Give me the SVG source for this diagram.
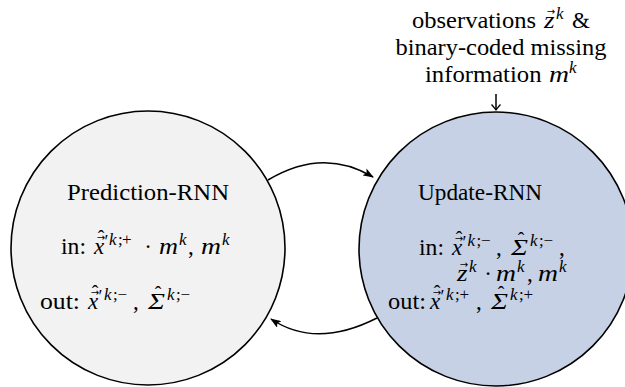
<svg xmlns="http://www.w3.org/2000/svg" width="625" height="387" viewBox="0 0 625 387">
<defs>
<style>
.t{font-family:"Liberation Serif","DejaVu Serif",serif;font-size:23px;fill:#000}
.s{font-family:"Liberation Serif","DejaVu Serif",serif;font-size:17px;fill:#000}
.it{font-style:italic}
.ar{font-family:"DejaVu Sans",sans-serif;font-size:10px;fill:#000}
.hat{font-family:"Liberation Serif","DejaVu Serif",serif;font-size:20px;fill:#000}
.pr{font-family:"Liberation Serif","DejaVu Serif",serif;font-size:18px;fill:#000}
.node{stroke:#000;stroke-width:1.6}
.edge{fill:none;stroke:#000;stroke-width:1.5}
</style>
<marker id="ah" viewBox="0 0 11 8" refX="10" refY="4" markerWidth="11" markerHeight="8" markerUnits="userSpaceOnUse" orient="auto">
<path d="M0,0 L11,4 L0,8 L2.5,4 z" fill="#000"/>
</marker>
<marker id="to" viewBox="-7 -6 9 12" refX="0" refY="0" markerWidth="9" markerHeight="12" markerUnits="userSpaceOnUse" orient="auto">
<path d="M-5.5,-4.5 Q-1.5,-1 0,0 Q-1.5,1 -5.5,4.5" fill="none" stroke="#000" stroke-width="1.2"/>
</marker>
</defs>
<rect width="625" height="387" fill="#fff"/>

<g id="connectors">
<path class="edge" d="M268,180 Q323,147 373,177" marker-end="url(#ah)"/>
<path class="edge" d="M377,318 Q316,349 271,319" marker-end="url(#ah)"/>
<path class="edge" d="M496,94 L496,110" stroke-width="1.2" marker-end="url(#to)"/>
</g>

<g id="prediction">
<circle class="node" cx="148" cy="248" r="137" fill="#f2f2f2"/>
<text class="t" x="148" y="200" text-anchor="middle" textLength="162" lengthAdjust="spacingAndGlyphs">Prediction-RNN</text>
<text class="t" x="61" y="254" textLength="25" lengthAdjust="spacingAndGlyphs">in:</text>
<text class="t it" x="94" y="254">x</text>
<text class="ar" x="101" y="241" text-anchor="middle">→</text>
<text class="hat" x="101" y="245" text-anchor="middle">ˆ</text>
<text class="pr" x="104.5" y="248">′</text>
<text class="s" y="244.5"><tspan class="it" x="109">k</tspan><tspan x="118">;</tspan><tspan x="122">+</tspan></text>
<text class="t" x="148" y="254" text-anchor="middle">·</text>
<text class="t it" x="159" y="254" textLength="19" lengthAdjust="spacingAndGlyphs">m</text>
<text class="s it" x="179" y="244.5">k</text>
<text class="t" x="188" y="254">,</text>
<text class="t it" x="201" y="254" textLength="20" lengthAdjust="spacingAndGlyphs">m</text>
<text class="s it" x="222" y="244.5">k</text>
<text class="t" x="40" y="309" textLength="40" lengthAdjust="spacingAndGlyphs">out:</text>
<text class="t it" x="88" y="309">x</text>
<text class="ar" x="95" y="296" text-anchor="middle">→</text>
<text class="hat" x="95" y="300" text-anchor="middle">ˆ</text>
<text class="pr" x="98.5" y="303">′</text>
<text class="s" y="299.5"><tspan class="it" x="104">k</tspan><tspan x="113">;</tspan><tspan x="117.5">−</tspan></text>
<text class="t" x="133" y="309">,</text>
<text class="t it" x="148" y="309" textLength="17" lengthAdjust="spacingAndGlyphs">Σ</text>
<text class="hat" x="158" y="301" text-anchor="middle">ˆ</text>
<text class="s" y="299.5"><tspan class="it" x="167">k</tspan><tspan x="176">;</tspan><tspan x="180.5">−</tspan></text>
</g>

<g id="update">
<circle class="node" cx="496" cy="249" r="137" fill="#c6d1e5"/>
<text class="t" x="418" y="200" textLength="124" lengthAdjust="spacingAndGlyphs">Update-RNN</text>
<text class="t" x="419" y="255" textLength="25" lengthAdjust="spacingAndGlyphs">in:</text>
<text class="t it" x="452" y="255">x</text>
<text class="ar" x="459" y="242" text-anchor="middle">→</text>
<text class="hat" x="459" y="246" text-anchor="middle">ˆ</text>
<text class="pr" x="462.5" y="249">′</text>
<text class="s" y="245.5"><tspan class="it" x="467.5">k</tspan><tspan x="476.5">;</tspan><tspan x="481">−</tspan></text>
<text class="t" x="496" y="255">,</text>
<text class="t it" x="511" y="255" textLength="17" lengthAdjust="spacingAndGlyphs">Σ</text>
<text class="hat" x="521" y="247" text-anchor="middle">ˆ</text>
<text class="s" y="245.5"><tspan class="it" x="530">k</tspan><tspan x="539">;</tspan><tspan x="543.5">−</tspan></text>
<text class="t" x="559" y="255">,</text>
<text class="t it" x="457" y="281" textLength="10.6" lengthAdjust="spacingAndGlyphs">z</text>
<text class="ar" x="464" y="268" text-anchor="middle">→</text>
<text class="s it" x="469" y="271.5">k</text>
<text class="t" x="488" y="281" text-anchor="middle">·</text>
<text class="t it" x="496" y="281" textLength="20" lengthAdjust="spacingAndGlyphs">m</text>
<text class="s it" x="517" y="271.5">k</text>
<text class="t" x="527" y="281">,</text>
<text class="t it" x="538" y="281" textLength="20" lengthAdjust="spacingAndGlyphs">m</text>
<text class="s it" x="559" y="271.5">k</text>
<text class="t" x="388" y="309" textLength="38" lengthAdjust="spacingAndGlyphs">out:</text>
<text class="t it" x="430" y="309">x</text>
<text class="ar" x="437" y="296" text-anchor="middle">→</text>
<text class="hat" x="437" y="300" text-anchor="middle">ˆ</text>
<text class="pr" x="440.5" y="303">′</text>
<text class="s" y="299.5"><tspan class="it" x="446">k</tspan><tspan x="455">;</tspan><tspan x="459.5">+</tspan></text>
<text class="t" x="476" y="309">,</text>
<text class="t it" x="491" y="309" textLength="17" lengthAdjust="spacingAndGlyphs">Σ</text>
<text class="hat" x="501" y="301" text-anchor="middle">ˆ</text>
<text class="s" y="299.5"><tspan class="it" x="510">k</tspan><tspan x="519">;</tspan><tspan x="523.5">+</tspan></text>
</g>

<g id="observations">
<text class="t" x="412" y="28" textLength="124" lengthAdjust="spacingAndGlyphs">observations</text>
<text class="t it" x="544" y="28" textLength="10.6" lengthAdjust="spacingAndGlyphs">z</text>
<text class="ar" x="551" y="15" text-anchor="middle">→</text>
<text class="s it" x="556" y="18.5">k</text>
<text class="t" x="572" y="28" textLength="17.8" lengthAdjust="spacingAndGlyphs">&amp;</text>
<text class="t" x="501" y="55" text-anchor="middle" textLength="211" lengthAdjust="spacingAndGlyphs">binary-coded missing</text>
<text class="t" x="425" y="82" textLength="116.5" lengthAdjust="spacingAndGlyphs">information</text>
<text class="t it" x="549" y="82" textLength="20" lengthAdjust="spacingAndGlyphs">m</text>
<text class="s it" x="569" y="72.5">k</text>
</g>
</svg>
